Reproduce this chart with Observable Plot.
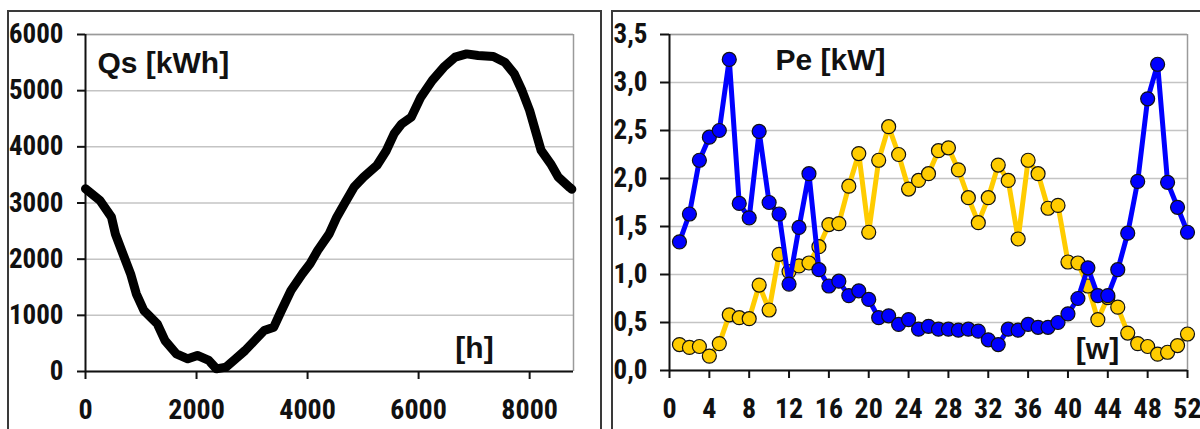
<!DOCTYPE html>
<html>
<head>
<meta charset="utf-8">
<script src="https://cdn.jsdelivr.net/npm/d3@7"></script>
<script src="https://cdn.jsdelivr.net/npm/@observablehq/plot@0.6"></script>
<style>
  html, body { margin: 0; padding: 0; background: #fff; }
  #wrap { position: relative; width: 1200px; height: 429px; overflow: hidden; background: #fff; }
  .panel { position: absolute; border: 2px solid #3a3a3a; box-sizing: border-box; }
  .chart { position: absolute; top: 0; }
</style>
</head>
<body>
<div id="wrap">
  <div class="panel" style="left:7px; top:10px; width:595px; height:480px;"></div>
  <div class="panel" style="left:611px; top:10px; width:700px; height:480px;"></div>
  <div id="left" class="chart" style="left:0px;"></div>
  <div id="right" class="chart" style="left:600px;"></div>
</div>
<script>
// ---- Left chart: Qs [kWh] over the hours of the year ----
const qsHours = [0, 261, 468, 537, 674, 812, 915, 1052, 1293, 1431, 1637, 1843, 2015, 2222, 2359, 2531, 2703, 2875, 3047, 3219, 3391, 3529, 3701, 3907, 4045, 4182, 4389, 4526, 4664, 4836, 5008, 5248, 5420, 5558, 5696, 5868, 6040, 6246, 6453, 6659, 6865, 7071, 7346, 7552, 7724, 7862, 8000, 8103, 8207, 8379, 8517, 8723, 8760];
const qsValues = [3252, 3044, 2748, 2451, 2095, 1739, 1383, 1086, 849, 552, 315, 226, 285, 196, 47, 77, 226, 374, 552, 730, 789, 1086, 1442, 1739, 1917, 2154, 2451, 2748, 2985, 3282, 3460, 3668, 3935, 4231, 4409, 4528, 4884, 5181, 5418, 5596, 5655, 5626, 5608, 5507, 5300, 5003, 4647, 4291, 3935, 3697, 3460, 3275, 3245];
const qsXTicks = [0, 2000, 4000, 6000, 8000];
const qsYTicks = [0, 1000, 2000, 3000, 4000, 5000, 6000];
const qsXMax = 8790;

// ---- Right chart: Pe [kW] per week ----
const weeks = d3.range(1, 53);
const peBlue = [1.34, 1.63, 2.19, 2.43, 2.50, 3.24, 1.74, 1.59, 2.49, 1.75, 1.63, 0.90, 1.49, 2.05, 1.05, 0.88, 0.93, 0.78, 0.83, 0.74, 0.55, 0.57, 0.48, 0.53, 0.43, 0.46, 0.43, 0.43, 0.42, 0.43, 0.41, 0.32, 0.27, 0.43, 0.42, 0.48, 0.45, 0.45, 0.50, 0.59, 0.75, 1.07, 0.78, 0.78, 1.05, 1.43, 1.97, 2.83, 3.19, 1.96, 1.70, 1.44];
const peYellow = [0.27, 0.24, 0.25, 0.15, 0.28, 0.58, 0.55, 0.54, 0.89, 0.63, 1.21, 1.03, 1.09, 1.12, 1.29, 1.52, 1.53, 1.92, 2.26, 1.44, 2.19, 2.54, 2.25, 1.89, 1.98, 2.05, 2.29, 2.32, 2.09, 1.80, 1.54, 1.80, 2.14, 1.98, 1.37, 2.19, 2.05, 1.69, 1.72, 1.13, 1.12, 0.88, 0.53, 0.76, 0.66, 0.39, 0.28, 0.25, 0.17, 0.19, 0.26, 0.38];
const peXTicks = d3.range(0, 53, 4);
const peYTicks = [0, 0.5, 1, 1.5, 2, 2.5, 3, 3.5];

const tickFont = '"Liberation Sans Narrow", "Arial Narrow", "Roboto Condensed", "DejaVu Sans Condensed", sans-serif';
const titleFont = '"Liberation Sans", Arial, sans-serif';

const qsData = qsHours.map((h, i) => ({h, q: qsValues[i]}));
const blueData = weeks.map((w, i) => ({w, v: peBlue[i]}));
const yellowData = weeks.map((w, i) => ({w, v: peYellow[i]}));

const comma = d => d.toFixed(1).replace(".", ",");

const left = Plot.plot({
  width: 600, height: 429,
  marginLeft: 85, marginRight: 27, marginTop: 34, marginBottom: 58,
  style: {fontFamily: tickFont, fontWeight: "bold", color: "#111", background: "transparent", overflow: "visible"},
  x: {domain: [0, qsXMax]},
  y: {domain: [0, 6000]},
  marks: [
    Plot.gridY(qsYTicks, {stroke: "#c4c4c4", strokeOpacity: 1, strokeWidth: 1.5}),
    Plot.ruleY([6000], {stroke: "#9a9a9a", strokeWidth: 1.5}),
    Plot.ruleX([qsXMax], {stroke: "#9a9a9a", strokeWidth: 1.5}),
    Plot.axisY({ticks: qsYTicks, tickSize: 8, tickPadding: 14, fontSize: 27, strokeWidth: 2, label: null, tickFormat: d => String(d)}),
    Plot.axisX({ticks: qsXTicks, tickSize: 8, tickPadding: 20, fontSize: 28, strokeWidth: 2, label: null, tickFormat: d => String(d)}),
    Plot.ruleX([0], {stroke: "#111", strokeWidth: 2}),
    Plot.ruleY([0], {stroke: "#111", strokeWidth: 2}),
    Plot.line(qsData, {x: "h", y: "q", stroke: "#000", strokeWidth: 9, strokeLinejoin: "round", strokeLinecap: "round"}),
    Plot.text(["Qs [kWh]"], {frameAnchor: "top-left", dx: 12, dy: 29, textAnchor: "start", lineAnchor: "middle", fontSize: 30, fontWeight: "bold", fontFamily: titleFont, fill: "#111"}),
    Plot.text(["[h]"], {frameAnchor: "bottom-right", dx: -99, dy: -23, textAnchor: "middle", lineAnchor: "middle", fontSize: 30, fontWeight: "bold", fontFamily: titleFont, fill: "#111"})
  ]
});
document.getElementById("left").appendChild(left);

const right = Plot.plot({
  width: 600, height: 429,
  marginLeft: 69, marginRight: 13, marginTop: 34, marginBottom: 59,
  style: {fontFamily: tickFont, fontWeight: "bold", color: "#111", background: "transparent", overflow: "visible"},
  x: {domain: [0, 52]},
  y: {domain: [0, 3.5]},
  marks: [
    Plot.gridY(peYTicks, {stroke: "#c4c4c4", strokeOpacity: 1, strokeWidth: 1.5}),
    Plot.ruleY([3.5], {stroke: "#9a9a9a", strokeWidth: 1.5}),
    Plot.ruleX([52], {stroke: "#9a9a9a", strokeWidth: 1.5}),
    Plot.axisY({ticks: peYTicks, tickSize: 9, tickPadding: 13, fontSize: 27, strokeWidth: 2, label: null, tickFormat: comma}),
    Plot.axisX({ticks: peXTicks, tickSize: 8, tickPadding: 20, fontSize: 28, strokeWidth: 2, label: null, tickFormat: d => String(d)}),
    Plot.ruleX([0], {stroke: "#111", strokeWidth: 2}),
    Plot.ruleY([0], {stroke: "#111", strokeWidth: 2}),
    Plot.text(["Pe [kW]"], {frameAnchor: "top-left", dx: 106, dy: 26, textAnchor: "start", lineAnchor: "middle", fontSize: 30, fontWeight: "bold", fontFamily: titleFont, fill: "#111"}),
    Plot.text(["[w]"], {frameAnchor: "bottom-right", dx: -90, dy: -21, textAnchor: "middle", lineAnchor: "middle", fontSize: 30, fontWeight: "bold", fontFamily: titleFont, fill: "#111"}),
    Plot.line(yellowData, {x: "w", y: "v", stroke: "#FFCC00", strokeWidth: 5, strokeLinejoin: "round"}),
    Plot.dot(yellowData, {x: "w", y: "v", r: 7, fill: "#FFCC00", stroke: "#111", strokeWidth: 1.2}),
    Plot.line(blueData, {x: "w", y: "v", stroke: "#0000FF", strokeWidth: 5, strokeLinejoin: "round"}),
    Plot.dot(blueData, {x: "w", y: "v", r: 7, fill: "#0000FF", stroke: "#111", strokeWidth: 1.2})
  ]
});
document.getElementById("right").appendChild(right);
</script>
</body>
</html>
